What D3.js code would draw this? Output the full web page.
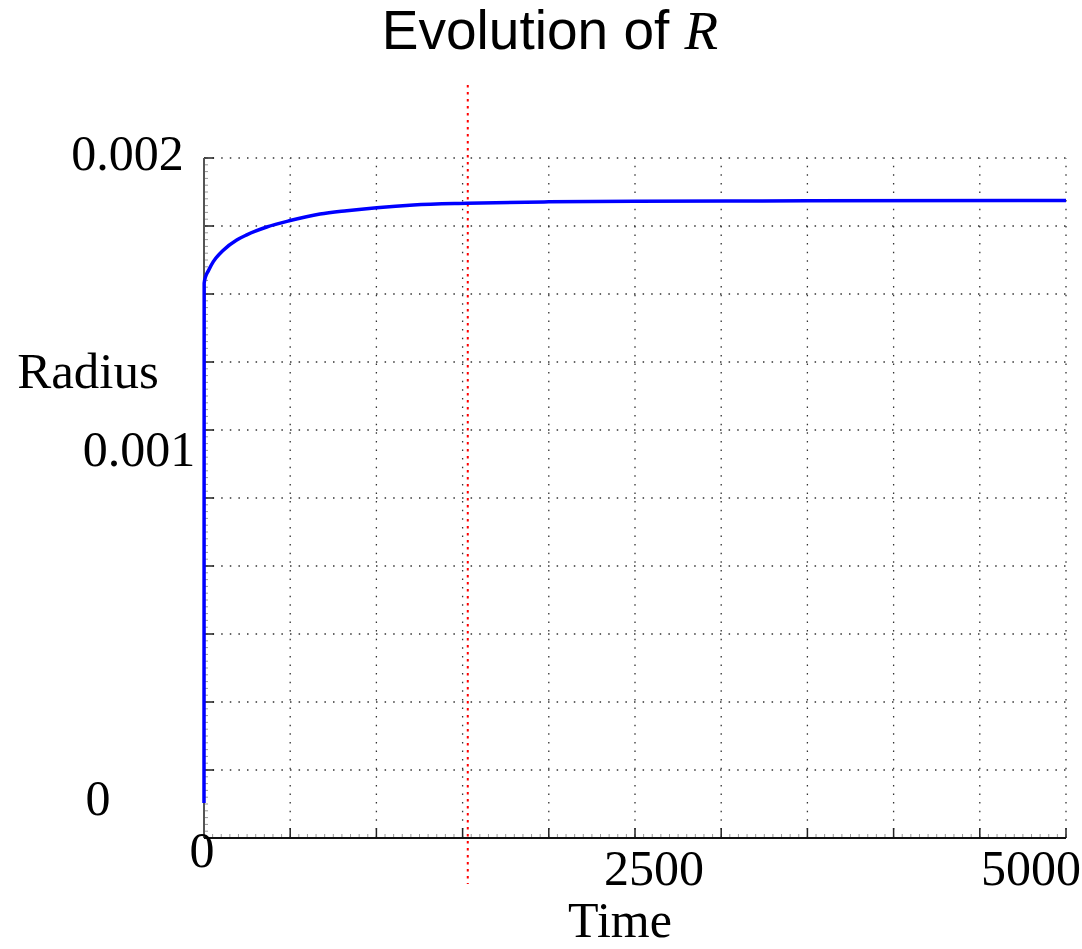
<!DOCTYPE html>
<html>
<head>
<meta charset="utf-8">
<script src="https://cdn.jsdelivr.net/npm/d3@7"></script>
<style>
  body { margin: 0; background: #fff; }
  svg { display: block; }
</style>
</head>
<body>
<div id="chart"></div>
<script>
// data
var time   = [0, 1, 10, 25, 54, 112, 190, 248, 364, 500, 673, 828, 1002, 1215, 1524, 2000, 2500, 3500, 5000];
var radius = [0.000103, 0.001632, 0.001652, 0.001668, 0.001695, 0.001729, 0.001759, 0.001774, 0.001797,
              0.001816, 0.001835, 0.001845, 0.001854, 0.001862, 0.001867, 0.001871, 0.001873, 0.001874, 0.001875];
var xTickValues = [0, 2500, 5000];
var xTickLabels = ["0", "2500", "5000"];
var yTickValues = [0, 0.001, 0.002];
var yTickLabels = ["0", "0.001", "0.002"];
var markerTime = 1530;

var W = 1082, H = 949;
var margin = { top: 158, right: 16, bottom: 111, left: 204 };

var svg = d3.select("#chart").append("svg")
    .attr("width", W)
    .attr("height", H);

var xScale = d3.scaleLinear()
    .domain([0, 5000])
    .range([margin.left, W - margin.right]);

var yScale = d3.scaleLinear()
    .domain([0, 0.002])
    .range([H - margin.bottom, margin.top]);

var x0 = xScale.range()[0], x1 = xScale.range()[1];
var y0 = yScale.range()[0], y1 = yScale.range()[1];

// dotted grid
var xGrid = d3.range(0, 5001, 500);
var yGrid = d3.range(0, 11).map(function (i) { return i * 0.0002; });

svg.append("g").selectAll("line")
    .data(xGrid.slice(1))
    .enter().append("line")
    .attr("x1", function (d) { return xScale(d); })
    .attr("x2", function (d) { return xScale(d); })
    .attr("y1", y0)
    .attr("y2", y1)
    .attr("stroke", "#333")
    .attr("stroke-width", 1.3)
    .attr("stroke-dasharray", "1.5,7.1");

svg.append("g").selectAll("line")
    .data(yGrid.slice(1))
    .enter().append("line")
    .attr("x1", x0)
    .attr("x2", x1)
    .attr("y1", function (d) { return yScale(d); })
    .attr("y2", function (d) { return yScale(d); })
    .attr("stroke", "#333")
    .attr("stroke-width", 1.3)
    .attr("stroke-dasharray", "1.5,7.1");

// minor ticks
var xMinor = d3.range(0, 5001, 50);
svg.append("g").selectAll("line")
    .data(xMinor)
    .enter().append("line")
    .attr("x1", function (d) { return xScale(d); })
    .attr("x2", function (d) { return xScale(d); })
    .attr("y1", y0)
    .attr("y2", y0 - 4)
    .attr("stroke", "#999")
    .attr("stroke-width", 1);

var yMinor = d3.range(0, 101).map(function (i) { return i * 0.00002; });
svg.append("g").selectAll("line")
    .data(yMinor)
    .enter().append("line")
    .attr("x1", x0)
    .attr("x2", x0 + 4)
    .attr("y1", function (d) { return yScale(d); })
    .attr("y2", function (d) { return yScale(d); })
    .attr("stroke", "#999")
    .attr("stroke-width", 1);

// major ticks
svg.append("g").selectAll("line")
    .data(xGrid)
    .enter().append("line")
    .attr("x1", function (d) { return xScale(d); })
    .attr("x2", function (d) { return xScale(d); })
    .attr("y1", y0)
    .attr("y2", y0 - 10)
    .attr("stroke", "#222")
    .attr("stroke-width", 1.5);

svg.append("g").selectAll("line")
    .data(yGrid)
    .enter().append("line")
    .attr("x1", x0)
    .attr("x2", x0 + 10)
    .attr("y1", function (d) { return yScale(d); })
    .attr("y2", function (d) { return yScale(d); })
    .attr("stroke", "#222")
    .attr("stroke-width", 1.5);

// axis lines
svg.append("line")
    .attr("x1", x0).attr("x2", x0)
    .attr("y1", y0).attr("y2", y1)
    .attr("stroke", "#555")
    .attr("stroke-width", 2);

svg.append("line")
    .attr("x1", x0).attr("x2", x1)
    .attr("y1", y0).attr("y2", y0)
    .attr("stroke", "#111")
    .attr("stroke-width", 2);

// red dotted marker
svg.append("line")
    .attr("x1", xScale(markerTime)).attr("x2", xScale(markerTime))
    .attr("y1", 85).attr("y2", 884)
    .attr("stroke", "#ff0000")
    .attr("stroke-width", 2)
    .attr("stroke-dasharray", "2.5,4.5");

// the curve
var line = d3.line()
    .x(function (d, i) { return xScale(time[i]); })
    .y(function (d) { return yScale(d); })
    .curve(d3.curveMonotoneX);

svg.append("path")
    .datum(radius)
    .attr("d", line)
    .attr("fill", "none")
    .attr("stroke", "#0000ff")
    .attr("stroke-width", 3.5);

// tick labels (placed like in the original, which are off-centre)
var serif = "'Liberation Serif', 'DejaVu Serif', serif";
var yLabelShift = [[-106, -23], [-65, -32], [-76.5, 12]];
var xLabelShift = [[-2, 29], [19, 47], [-35, 47]];

svg.append("g").selectAll("text")
    .data(yTickValues)
    .enter().append("text")
    .attr("x", function (d, i) { return x0 + yLabelShift[i][0]; })
    .attr("y", function (d, i) { return yScale(d) + yLabelShift[i][1]; })
    .attr("text-anchor", "middle")
    .attr("font-family", serif)
    .attr("font-size", 50)
    .text(function (d, i) { return yTickLabels[i]; });

svg.append("g").selectAll("text")
    .data(xTickValues)
    .enter().append("text")
    .attr("x", function (d, i) { return xScale(d) + xLabelShift[i][0]; })
    .attr("y", function (d, i) { return y0 + xLabelShift[i][1]; })
    .attr("text-anchor", "middle")
    .attr("font-family", serif)
    .attr("font-size", 50)
    .text(function (d, i) { return xTickLabels[i]; });

// axis titles
svg.append("text")
    .attr("x", 88)
    .attr("y", 388)
    .attr("text-anchor", "middle")
    .attr("font-family", serif)
    .attr("font-size", 51)
    .text("Radius");

svg.append("text")
    .attr("x", 620)
    .attr("y", 937)
    .attr("text-anchor", "middle")
    .attr("font-family", serif)
    .attr("font-size", 50)
    .text("Time");

// chart title
var title = svg.append("text")
    .attr("x", 550)
    .attr("y", 49)
    .attr("text-anchor", "middle")
    .attr("font-family", "'Liberation Sans', Arial, sans-serif")
    .attr("font-size", 55);
title.append("tspan").text("Evolution of ");
title.append("tspan")
    .attr("font-family", serif)
    .attr("font-style", "italic")
    .text("R");
</script>
</body>
</html>
